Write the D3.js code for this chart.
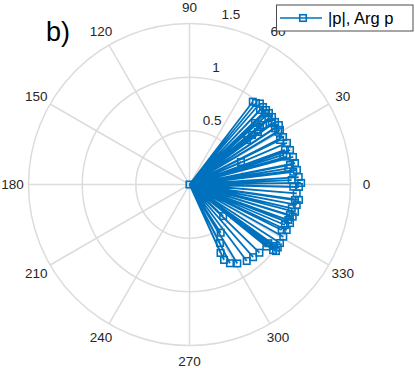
<!DOCTYPE html>
<html>
<head>
<meta charset="utf-8">
<script src="https://cdn.jsdelivr.net/npm/d3@7"></script>
<style>
  body { margin: 0; background: #fff; }
  svg { display: block; font-family: "Liberation Sans", Arial, sans-serif; }
</style>
</head>
<body>
<svg id="chart" width="415" height="368"></svg>
<script>
// angle of each point (degrees) and its magnitude |p|
const thetaDeg = [
  52.6, 50.8, 49.0, 46.6, 46.5, 44.2, 43.3, 43.2, 42.0, 40.0,
  39.3, 39.2, 39.0, 38.4, 37.7, 37.5, 36.7, 36.2, 33.6, 33.3,
  31.1, 30.7, 26.9, 26.2, 23.6, 23.1, 19.9, 18.9, 17.5, 16.0,
  14.9, 11.5, 11.0, 9.3, 7.7, 7.0, 3.9, 2.5, 0.8, -1.2,
  -1.3, -4.7, -8.0, -8.4, -10.8, -13.1, -14.5, -16.9, -17.3, -19.8,
  -21.0, -23.0, -25.1, -26.3, -29.1, -32.9, -35.5, -36.2, -36.7, -37.6,
  -38.1, -38.9, -43.2, -44.3, -48.8, -53.2, -57.1, -58.8, -62.5, -62.8,
  -65.4, -65.6
];
const rho = [
  0.971, 0.980, 1.000, 0.956, 0.995, 0.995, 0.967, 0.837, 0.996, 0.959,
  0.993, 0.848, 0.881, 0.743, 0.677, 0.804, 0.955, 0.987, 1.000, 0.953,
  0.984, 0.962, 0.977, 0.940, 0.524, 0.987, 0.946, 0.990, 0.916, 0.942,
  0.998, 1.003, 0.954, 0.933, 1.010, 0.974, 1.020, 0.953, 1.040, 0.967,
  1.020, 1.002, 1.030, 0.993, 1.017, 0.978, 1.015, 0.978, 1.007, 0.978,
  1.003, 0.966, 1.000, 0.958, 1.000, 1.004, 1.010, 0.970, 0.916, 1.017,
  0.990, 0.920, 0.430, 0.910, 0.900, 0.890, 0.535, 0.860, 0.615, 0.825,
  0.773, 0.700
];
const rTicks = [0.5, 1, 1.5];
const angleTicks = [0, 30, 60, 90, 120, 150, 180, 210, 240, 270, 300, 330];
const legendLabel = "|p|, Arg p";
const panelLabel = "b)";

const cx = 189.5, cy = 184.5, outerR = 161;
const blue = "#0072bd";
const gridColor = "#dcdcdc";
const textColor = "#262626";

const svg = d3.select("#chart");
const rScale = d3.scaleLinear().domain([0, 1.5]).range([0, outerR]);
const rad = d => d * Math.PI / 180;
const px = (t, r) => cx + rScale(r) * Math.cos(rad(t));
const py = (t, r) => cy - rScale(r) * Math.sin(rad(t));

// grid
const grid = svg.append("g");
grid.selectAll("circle")
  .data(rTicks)
  .join("circle")
  .attr("cx", cx).attr("cy", cy)
  .attr("r", d => rScale(d))
  .attr("fill", "none")
  .attr("stroke", gridColor)
  .attr("stroke-width", 1.5);

grid.selectAll("line")
  .data(angleTicks)
  .join("line")
  .attr("x1", cx).attr("y1", cy)
  .attr("x2", d => px(d, 1.5))
  .attr("y2", d => py(d, 1.5))
  .attr("stroke", gridColor)
  .attr("stroke-width", 1.5);

// angle labels
svg.append("g")
  .selectAll("text")
  .data(angleTicks)
  .join("text")
  .attr("x", d => cx + (outerR + 16) * Math.cos(rad(d)))
  .attr("y", d => cy - (outerR + 16) * Math.sin(rad(d)))
  .attr("text-anchor", "middle")
  .attr("dominant-baseline", "central")
  .attr("font-size", 13.5)
  .attr("fill", textColor)
  .text(d => d);

// radius labels along 80 deg
svg.append("g")
  .selectAll("text")
  .data(rTicks)
  .join("text")
  .attr("x", d => px(80, d) + 4)
  .attr("y", d => py(80, d) - 7)
  .attr("font-size", 13.5)
  .attr("fill", textColor)
  .text(d => d);

// data: spokes from origin to each point
const pts = thetaDeg.map((t, i) => [t, rho[i]]);
let pathD = `M${cx},${cy}`;
pts.forEach(p => {
  pathD += `L${px(p[0], p[1])},${py(p[0], p[1])}L${cx},${cy}`;
});
svg.append("path")
  .attr("d", pathD)
  .attr("fill", "none")
  .attr("stroke", blue)
  .attr("stroke-width", 1.8)
  .attr("stroke-linejoin", "miter");

const ms = 6.5;
svg.append("g")
  .selectAll("rect")
  .data([[0, 0]].concat(pts))
  .join("rect")
  .attr("x", d => px(d[0], d[1]) - ms / 2)
  .attr("y", d => py(d[0], d[1]) - ms / 2)
  .attr("width", ms).attr("height", ms)
  .attr("fill", "none")
  .attr("stroke", blue)
  .attr("stroke-width", 1.6);

// legend
const lg = svg.append("g");
lg.append("rect")
  .attr("x", 276.5).attr("y", 5)
  .attr("width", 136.5).attr("height", 26)
  .attr("fill", "#fff")
  .attr("stroke", "#4d4d4d")
  .attr("stroke-width", 1);
lg.append("line")
  .attr("x1", 280).attr("x2", 322)
  .attr("y1", 18).attr("y2", 18)
  .attr("stroke", blue).attr("stroke-width", 1.6);
lg.append("rect")
  .attr("x", 303 - ms / 2).attr("y", 18 - ms / 2)
  .attr("width", ms).attr("height", ms)
  .attr("fill", "none").attr("stroke", blue).attr("stroke-width", 1.6);
lg.append("text")
  .attr("x", 328).attr("y", 18)
  .attr("dominant-baseline", "central")
  .attr("font-size", 16.5)
  .attr("fill", "#000")
  .text(legendLabel);

// panel label
svg.append("text")
  .attr("x", 46).attr("y", 41)
  .attr("font-size", 27)
  .attr("fill", "#000")
  .text(panelLabel);
</script>
</body>
</html>
